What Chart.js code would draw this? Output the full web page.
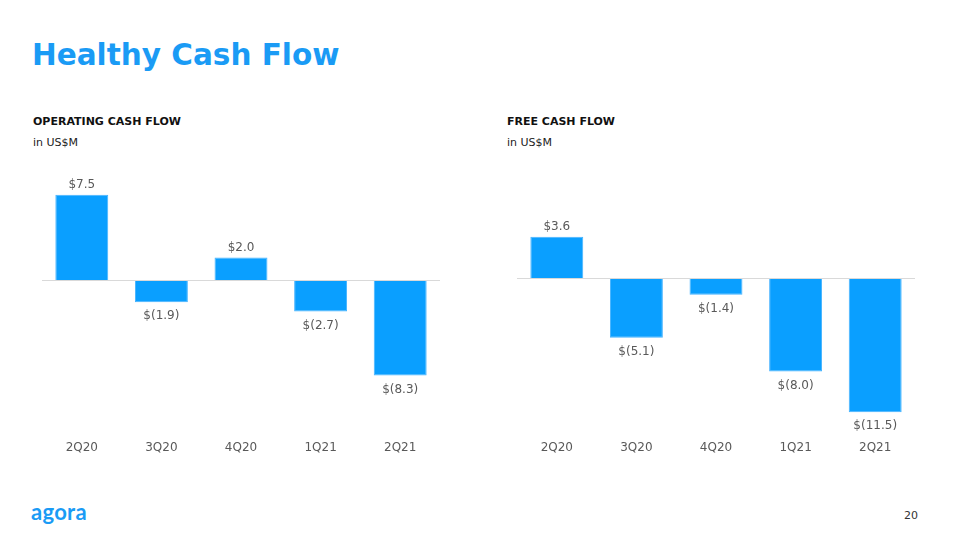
<!DOCTYPE html>
<html>
<head>
<meta charset="utf-8">
<script src="https://cdn.jsdelivr.net/npm/chart.js@4"></script>
<style>
  html, body { margin: 0; padding: 0; background: #fff; }
  body { width: 960px; height: 540px; position: relative; overflow: hidden; font-family: "DejaVu Sans", Verdana, sans-serif; }
  .title { position: absolute; left: 32px; top: 35px; font-size: 29.5px; font-weight: bold; color: #1a9bf5; line-height: 40px; white-space: nowrap; }
  .head { position: absolute; font-size: 11px; font-weight: bold; color: #111; white-space: nowrap; line-height: 14px; }
  .sub { position: absolute; font-size: 11px; color: #222; white-space: nowrap; line-height: 14px; }
  .logo { position: absolute; left: 31px; top: 499px; font-family: Lato, sans-serif; font-weight: bold; font-size: 22px; color: #1a9bf5; letter-spacing: 0.3px; line-height: 26px; }
  .page { position: absolute; left: 904px; top: 509px; font-size: 11px; color: #333; line-height: 14px; }
  .cv { position: absolute; }
</style>
</head>
<body>
<div class="title">Healthy Cash Flow</div>
<div class="head" style="left:33px; top:115px;">OPERATING CASH FLOW</div>
<div class="sub" style="left:33px; top:136px;">in US$M</div>
<div class="head" style="left:507px; top:115px;">FREE CASH FLOW</div>
<div class="sub" style="left:507px; top:136px;">in US$M</div>
<div class="logo">agora</div>
<div class="page">20</div>

<div class="cv" style="left:42px; top:171px; width:398px; height:291px;"><canvas id="ocf"></canvas></div>
<div class="cv" style="left:517px; top:171px; width:398px; height:291px;"><canvas id="fcf"></canvas></div>

<script>
const categories = ["2Q20", "3Q20", "4Q20", "1Q21", "2Q21"];
const operatingCashFlow = [7.5, -1.9, 2.0, -2.7, -8.3];
const freeCashFlow = [3.6, -5.1, -1.4, -8.0, -11.5];

function fmt(v) {
  const s = Math.abs(v).toFixed(1);
  return v < 0 ? "$(" + s + ")" : "$" + s;
}

const valueLabels = {
  id: "valueLabels",
  afterDatasetsDraw(chart) {
    const ctx = chart.ctx;
    const meta = chart.getDatasetMeta(0);
    const data = chart.data.datasets[0].data;
    ctx.save();
    ctx.font = "12px 'DejaVu Sans', Verdana, sans-serif";
    ctx.fillStyle = "#595959";
    ctx.textAlign = "center";
    ctx.textBaseline = "middle";
    meta.data.forEach((bar, i) => {
      const v = data[i];
      const y = v >= 0 ? bar.y - 10 : bar.y + 14;
      ctx.fillText(fmt(v), bar.x, y);
    });
    ctx.restore();
  }
};

function makeChart(id, values, yMin, yMax) {
  return new Chart(document.getElementById(id), {
    type: "bar",
    data: {
      labels: categories,
      datasets: [{
        data: values,
        backgroundColor: "#0a9fff",
        borderColor: "#45b3ff",
        borderWidth: 1,
        categoryPercentage: 1,
        barPercentage: 0.665
      }]
    },
    options: {
      responsive: true,
      maintainAspectRatio: false,
      animation: false,
      layout: { padding: 0 },
      plugins: { legend: { display: false }, tooltip: { enabled: false } },
      scales: {
        x: {
          grid: { display: false, drawTicks: false },
          border: { display: false },
          ticks: { color: "#595959", font: { family: "'DejaVu Sans', Verdana, sans-serif", size: 12 }, padding: 7 }
        },
        y: {
          min: yMin,
          max: yMax,
          border: { display: false },
          grid: {
            drawTicks: false,
            color: (c) => (c.tick && c.tick.value === 0 ? "#d9d9d9" : "rgba(0,0,0,0)"),
            lineWidth: 1
          },
          ticks: { display: false, stepSize: 1 }
        }
      }
    },
    plugins: [valueLabels]
  });
}

makeChart("ocf", operatingCashFlow, -13.37, 9.565);
makeChart("fcf", freeCashFlow, -13.34, 9.255);
</script>
</body>
</html>
